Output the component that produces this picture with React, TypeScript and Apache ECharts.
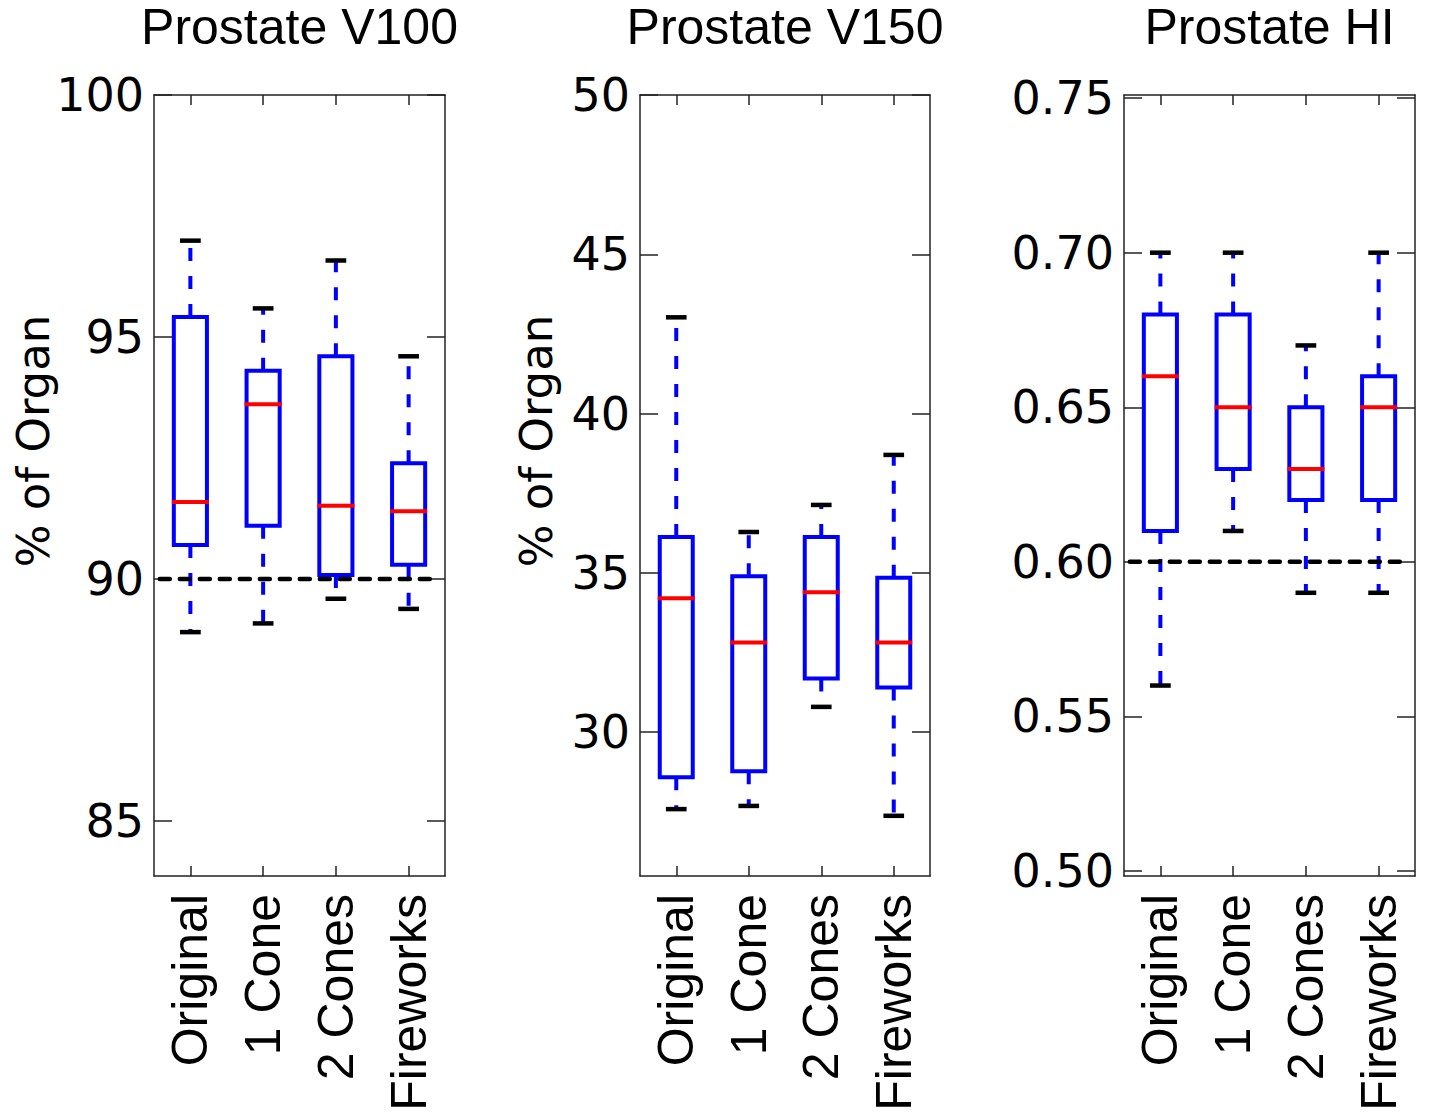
import React, { useEffect, useRef } from 'react';
import * as echarts from 'echarts';

// ---------------- data ----------------
const categories = ['Original', '1 Cone', '2 Cones', 'Fireworks'];
const panelTitles = ['Prostate V100', 'Prostate V150', 'Prostate HI'];
const yAxisTitle = '% of Organ';

// Prostate V100 (% of organ)
const v100WhiskerLow = [88.9, 89.08, 89.59, 89.38];
const v100Q1 = [90.7, 91.1, 90.08, 90.29];
const v100Median = [91.59, 93.61, 91.51, 91.4];
const v100Q3 = [95.41, 94.3, 94.6, 92.39];
const v100WhiskerHigh = [96.99, 95.59, 96.58, 94.6];
const v100Ticks = [85, 90, 95, 100];
const v100Range = [83.86, 100];
const v100Threshold = 90;

// Prostate V150 (% of organ)
const v150WhiskerLow = [27.58, 27.68, 30.79, 27.37];
const v150Q1 = [28.58, 28.77, 31.68, 31.4];
const v150Median = [34.2, 32.81, 34.39, 32.81];
const v150Q3 = [36.12, 34.89, 36.12, 34.84];
const v150WhiskerHigh = [43.02, 36.28, 37.13, 38.7];
const v150Ticks = [30, 35, 40, 45, 50];
const v150Range = [25.48, 50];

// Prostate HI
const hiWhiskerLow = [0.56, 0.61, 0.59, 0.59];
const hiQ1 = [0.61, 0.63, 0.62, 0.62];
const hiMedian = [0.66, 0.65, 0.63, 0.65];
const hiQ3 = [0.68, 0.68, 0.65, 0.66];
const hiWhiskerHigh = [0.7, 0.7, 0.67, 0.7];
const hiTicks = [0.5, 0.55, 0.6, 0.65, 0.7, 0.75];
const hiRange = [0.4984, 0.751];
const hiThreshold = 0.6;

// ---------------- styling ----------------
const BLUE = '#0000ff';
const RED = '#ff0000';
const AXIS_COLOR = '#222222';
const TICK_FONT = "'DejaVu Sans'";
const TEXT_FONT = "'Liberation Sans', Arial, Helvetica, sans-serif";

const grids = [
  { left: 154, top: 95, width: 291, height: 781 },
  { left: 640, top: 95, width: 290, height: 781 },
  { left: 1124, top: 95, width: 291, height: 781 },
];

function buildRows(lo: number[], q1: number[], med: number[], q3: number[], hi: number[]) {
  return categories.map((_, i) => [i, lo[i], q1[i], med[i], q3[i], hi[i]]);
}

function boxRender(params: any, api: any) {
  const i = api.value(0);
  const cx = api.coord([i, api.value(3)])[0];
  const band = api.size([1, 0])[0];
  const yv = (k: number) => api.coord([i, api.value(k)])[1];
  const yLo = yv(1);
  const yQ1 = yv(2);
  const yMed = yv(3);
  const yQ3 = yv(4);
  const yHi = yv(5);
  const bw = band * 0.455;
  const cw = band * 0.285;
  const whiskerStyle = { stroke: BLUE, lineWidth: 4, lineDash: [13, 15] };
  return {
    type: 'group',
    children: [
      { type: 'line', shape: { x1: cx, y1: yQ3, x2: cx, y2: yHi }, style: whiskerStyle },
      { type: 'line', shape: { x1: cx, y1: yQ1, x2: cx, y2: yLo }, style: whiskerStyle },
      {
        type: 'rect',
        shape: { x: cx - bw / 2, y: yQ3, width: bw, height: yQ1 - yQ3 },
        style: { fill: 'none', stroke: BLUE, lineWidth: 4 },
      },
      {
        type: 'line',
        shape: { x1: cx - bw / 2 - 2, y1: yMed, x2: cx + bw / 2 + 2, y2: yMed },
        style: { stroke: RED, lineWidth: 4 },
      },
      {
        type: 'line',
        shape: { x1: cx - cw / 2, y1: yHi, x2: cx + cw / 2, y2: yHi },
        style: { stroke: '#000', lineWidth: 4.5 },
      },
      {
        type: 'line',
        shape: { x1: cx - cw / 2, y1: yLo, x2: cx + cw / 2, y2: yLo },
        style: { stroke: '#000', lineWidth: 4.5 },
      },
    ],
  };
}

function thresholdRender(params: any, api: any) {
  const v = api.value(1);
  const band = api.size([1, 0])[0];
  const p0 = api.coord([0, v]);
  const p1 = api.coord([categories.length - 1, v]);
  return {
    type: 'line',
    shape: { x1: p0[0] - band * 0.42, y1: p0[1], x2: p1[0] + band * 0.38, y2: p1[1] },
    style: { stroke: '#000', lineWidth: 4.5, lineDash: [10, 10], lineCap: 'round' },
  };
}

const axisLine = { show: true, onZero: false, lineStyle: { color: AXIS_COLOR, width: 1.5 } };

function xAxes(gi: number) {
  const base = {
    gridIndex: gi,
    type: 'category',
    data: categories,
    boundaryGap: true,
    axisLine,
    axisTick: { show: true, inside: true, alignWithLabel: true, length: 10, lineStyle: { color: AXIS_COLOR, width: 1.5 } },
    splitLine: { show: false },
  };
  return [
    {
      ...base,
      position: 'bottom',
      axisLabel: { rotate: 90, margin: 18, fontFamily: TEXT_FONT, fontSize: 50, color: '#000' },
    },
    { ...base, position: 'top', axisLabel: { show: false } },
  ];
}

function yAxes(gi: number, range: number[], ticks: number[], digits: number) {
  const base = {
    gridIndex: gi,
    type: 'value',
    min: range[0],
    max: range[1],
    axisLine,
    axisTick: { show: true, inside: true, length: 18, customValues: ticks, lineStyle: { color: AXIS_COLOR, width: 1.5 } },
    splitLine: { show: false },
  };
  return [
    {
      ...base,
      position: 'left',
      axisLabel: {
        customValues: ticks,
        margin: 10,
        fontFamily: TICK_FONT,
        fontSize: 46,
        color: '#000',
        formatter: (v: number) => v.toFixed(digits),
      },
    },
    { ...base, position: 'right', axisLabel: { show: false } },
  ];
}

export default function App() {
  const ref = useRef<HTMLDivElement>(null);

  useEffect(() => {
    if (!ref.current) return;
    const chart = echarts.init(ref.current, null, { renderer: 'svg' });

    const panels = [
      { rows: buildRows(v100WhiskerLow, v100Q1, v100Median, v100Q3, v100WhiskerHigh), threshold: v100Threshold },
      { rows: buildRows(v150WhiskerLow, v150Q1, v150Median, v150Q3, v150WhiskerHigh), threshold: null },
      { rows: buildRows(hiWhiskerLow, hiQ1, hiMedian, hiQ3, hiWhiskerHigh), threshold: hiThreshold },
    ];

    const series: any[] = [];
    panels.forEach((p, gi) => {
      series.push({
        type: 'custom',
        xAxisIndex: gi * 2,
        yAxisIndex: gi * 2,
        data: p.rows,
        encode: { x: 0, y: [1, 2, 3, 4, 5] },
        renderItem: boxRender,
        clip: false,
        z: 2,
      });
      if (p.threshold !== null) {
        series.push({
          type: 'custom',
          xAxisIndex: gi * 2,
          yAxisIndex: gi * 2,
          data: [[0, p.threshold]],
          encode: { x: 0, y: 1 },
          renderItem: thresholdRender,
          clip: false,
          z: 3,
        });
      }
    });

    const titleCenters = grids.map((g) => g.left + g.width / 2);

    chart.setOption({
      animation: false,
      backgroundColor: '#ffffff',
      grid: grids.map((g) => ({ ...g, containLabel: false })),
      xAxis: [...xAxes(0), ...xAxes(1), ...xAxes(2)],
      yAxis: [
        ...yAxes(0, v100Range, v100Ticks, 0),
        ...yAxes(1, v150Range, v150Ticks, 0),
        ...yAxes(2, hiRange, hiTicks, 2),
      ],
      graphic: [
        ...panelTitles.map((t, i) => ({
          type: 'text',
          x: titleCenters[i],
          y: 27,
          style: {
            text: t,
            textAlign: 'center',
            textVerticalAlign: 'middle',
            font: `normal 50px ${TEXT_FONT}`,
            fill: '#000',
          },
        })),
        ...[33, 536].map((x) => ({
          type: 'text',
          x,
          y: 441,
          rotation: Math.PI / 2,
          style: {
            text: yAxisTitle,
            textAlign: 'center',
            textVerticalAlign: 'middle',
            font: `normal 45px ${TICK_FONT}`,
            fill: '#000',
          },
        })),
      ],
      series,
    });

    return () => chart.dispose();
  }, []);

  return (
    <div
      ref={ref}
      style={{ position: 'absolute', left: 0, top: 0, width: 1430, height: 1114, background: '#fff' }}
    />
  );
}
